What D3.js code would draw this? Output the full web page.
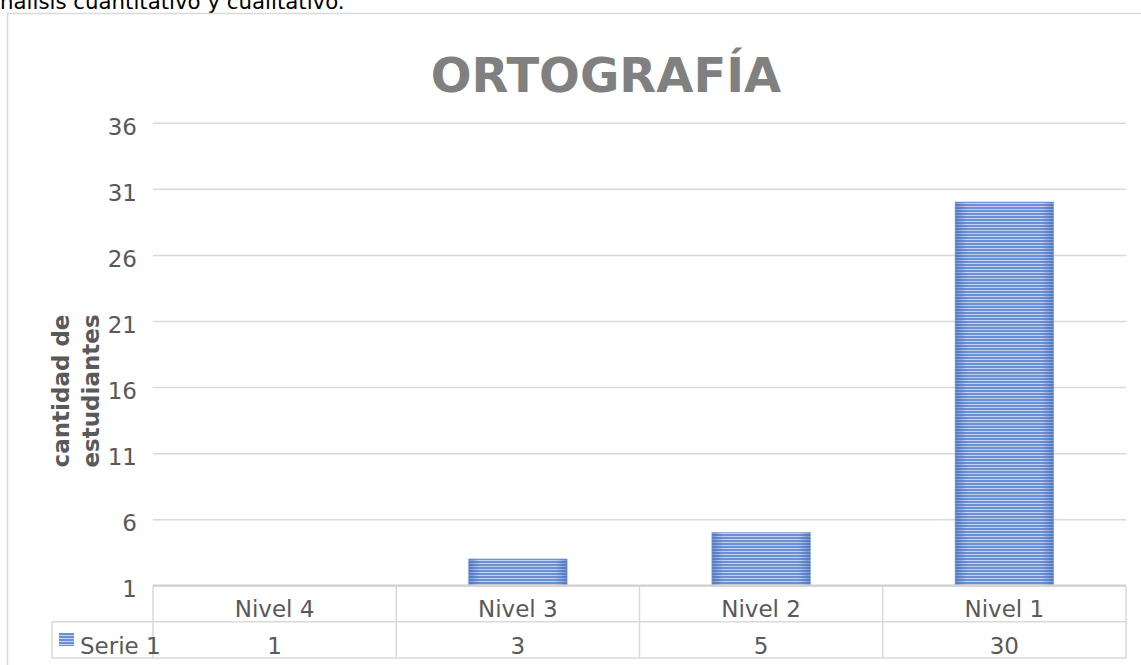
<!DOCTYPE html>
<html>
<head>
<meta charset="utf-8">
<script src="https://cdn.jsdelivr.net/npm/d3@7"></script>
<style>
  html, body { margin: 0; padding: 0; background: #fff; }
  svg { display: block; }
</style>
</head>
<body>
<svg id="chart" width="1141" height="665"></svg>
<script>
// ---- data ----
const categories = ["Nivel 4", "Nivel 3", "Nivel 2", "Nivel 1"];
const values = [1, 3, 5, 30];
const seriesName = "Serie 1";
const yTicks = [1, 6, 11, 16, 21, 26, 31, 36];
const chartTitle = "ORTOGRAFÍA";
const yTitleLines = ["cantidad de", "estudiantes"];
const headerText = "Análisis cuantitativo y cualitativo.";

const svg = d3.select("#chart");
const font = "'DejaVu Sans', Verdana, sans-serif";
const textGrey = "#595959";
const lineGrey = "#d9d9d9";

// header text, cut at top (as in the reference)
svg.append("text").attr("x", -14.5).attr("y", 9)
  .attr("font-family", font)
  .attr("font-size", 21.3).attr("fill", "#000").text(headerText);

// chart frame
svg.append("rect").attr("x", 7.5).attr("y", 13.5).attr("width", 1200).attr("height", 700)
  .attr("fill", "#fff").attr("stroke", lineGrey).attr("stroke-width", 1.5);

// defs: striped pattern
const defs = svg.append("defs");
const pat = defs.append("pattern").attr("id", "stripes").attr("patternUnits", "userSpaceOnUse")
  .attr("width", 10).attr("height", 3);
pat.append("rect").attr("width", 10).attr("height", 3).attr("fill", "#6a8fd4");
pat.append("rect").attr("y", 2).attr("width", 10).attr("height", 1).attr("fill", "#c3d2f0");
const grad = defs.append("linearGradient").attr("id", "edge").attr("x1", 0).attr("x2", 1);
grad.append("stop").attr("offset", "0").attr("stop-color", "#3e64b0").attr("stop-opacity", 0.55);
grad.append("stop").attr("offset", "0.12").attr("stop-color", "#3e64b0").attr("stop-opacity", 0);
grad.append("stop").attr("offset", "0.88").attr("stop-color", "#3e64b0").attr("stop-opacity", 0);
grad.append("stop").attr("offset", "1").attr("stop-color", "#3e64b0").attr("stop-opacity", 0.55);

// scales
const plotLeft = 153, plotRight = 1126;
const x = d3.scaleBand().domain(categories).range([plotLeft, plotRight]);
const y = d3.scaleLinear().domain([1, 36]).range([585.4, 122.7]);
const barW = 98.5;

// title
svg.append("text").attr("x", 606).attr("y", 92).attr("text-anchor", "middle")
  .attr("font-family", font).attr("font-weight", "bold").attr("font-size", 48)
  .attr("fill", "#808080").text(chartTitle);

// gridlines
const gy = svg.append("g").attr("transform", `translate(${plotLeft},0)`)
  .call(d3.axisLeft(y).tickValues(yTicks).tickSize(-(plotRight - plotLeft)).tickFormat(""));
gy.select(".domain").remove();
gy.selectAll(".tick line").attr("stroke", lineGrey).attr("stroke-width", 1.5);

// tick labels
svg.append("g").selectAll("text").data(yTicks).join("text")
  .attr("x", 137).attr("y", d => y(d) + 12).attr("text-anchor", "end")
  .attr("font-family", font).attr("font-size", 23).attr("fill", textGrey).text(d => d);

// bars
const bars = svg.append("g");
values.forEach((v, i) => {
  const c = categories[i];
  const bx = x(c) + x.bandwidth() / 2 - barW / 2;
  const h = y(1) - y(v);
  if (h <= 0) return;
  bars.append("rect").attr("x", bx).attr("y", y(v)).attr("width", barW).attr("height", h)
    .attr("fill", "url(#stripes)");
  bars.append("rect").attr("x", bx).attr("y", y(v)).attr("width", barW).attr("height", h)
    .attr("fill", "url(#edge)").attr("stroke", "#7f9fd8").attr("stroke-width", 1).attr("stroke-opacity", 0.6);
});

// y title
const yt = svg.append("text").attr("transform", "translate(69,391) rotate(-90)")
  .attr("text-anchor", "middle").attr("font-family", font).attr("font-weight", "bold")
  .attr("font-size", 23).attr("fill", textGrey);
yTitleLines.forEach((l, i) => yt.append("tspan").attr("x", 0).attr("dy", i === 0 ? 0 : 30).text(l));

// data table
const rowTop = 585.4, rowMid = 621.7, rowBot = 658;
const tbl = svg.append("g").attr("stroke", lineGrey).attr("stroke-width", 1.5).attr("fill", "none");
tbl.append("line").attr("x1", plotLeft).attr("x2", plotRight).attr("y1", rowTop).attr("y2", rowTop).attr("stroke", "#cfcfcf").attr("stroke-width", 2);
tbl.append("line").attr("x1", 52).attr("x2", plotRight).attr("y1", rowMid).attr("y2", rowMid);
tbl.append("line").attr("x1", 52).attr("x2", plotRight).attr("y1", rowBot).attr("y2", rowBot);
tbl.append("line").attr("x1", 52).attr("x2", 52).attr("y1", rowMid).attr("y2", rowBot);
categories.forEach(c => {
  tbl.append("line").attr("x1", x(c)).attr("x2", x(c)).attr("y1", rowTop).attr("y2", rowBot);
});
tbl.append("line").attr("x1", plotRight).attr("x2", plotRight).attr("y1", rowTop).attr("y2", rowBot);

svg.append("g").selectAll("text").data(categories).join("text")
  .attr("x", d => x(d) + x.bandwidth() / 2).attr("y", 617).attr("text-anchor", "middle")
  .attr("font-family", font).attr("font-size", 23).attr("fill", textGrey).text(d => d);
svg.append("g").selectAll("text").data(values).join("text")
  .attr("x", (d, i) => x(categories[i]) + x.bandwidth() / 2).attr("y", 654).attr("text-anchor", "middle")
  .attr("font-family", font).attr("font-size", 23).attr("fill", textGrey).text(d => d);

// legend key
svg.append("rect").attr("x", 59).attr("y", 633).attr("width", 15).attr("height", 13).attr("fill", "url(#stripes)");
svg.append("text").attr("x", 80).attr("y", 654).attr("font-family", font).attr("font-size", 23)
  .attr("fill", textGrey).text(seriesName);
</script>
</body>
</html>
